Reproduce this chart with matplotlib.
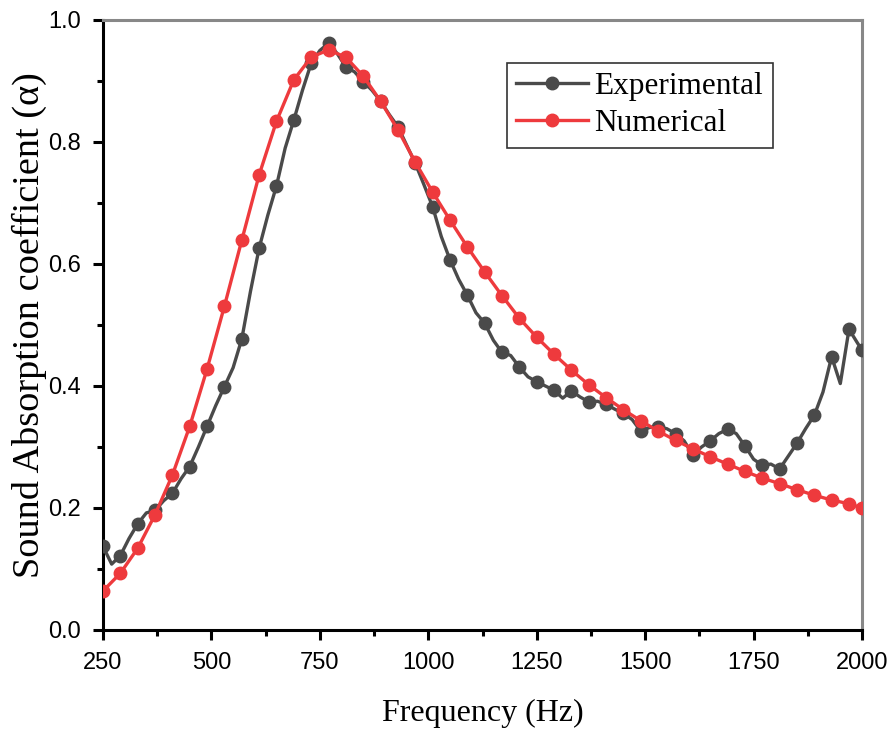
import matplotlib
matplotlib.use("Agg")
import matplotlib.pyplot as plt
from matplotlib.ticker import MultipleLocator, FixedLocator
import numpy as np

# Experimental data (20 Hz resolution, marker on every other point)
exp_freq = [250, 270, 290, 310, 330, 350, 370, 390, 410, 430, 450, 470, 490, 510,
            530, 550, 570, 590, 610, 630, 650, 670, 690, 710, 730, 750, 770, 790,
            810, 830, 850, 870, 890, 910, 930, 950, 970, 990, 1010, 1030, 1050,
            1070, 1090, 1110, 1130, 1150, 1170, 1190, 1210, 1230, 1250, 1270,
            1290, 1310, 1330, 1350, 1370, 1390, 1410, 1430, 1450, 1470, 1490,
            1510, 1530, 1550, 1570, 1590, 1610, 1630, 1650, 1670, 1690, 1710,
            1730, 1750, 1770, 1790, 1810, 1830, 1850, 1870, 1890, 1910, 1930,
            1950, 1970, 1990, 2000]
exp_alpha = [0.137, 0.108, 0.122, 0.150, 0.174, 0.192, 0.196, 0.212, 0.224, 0.248,
             0.268, 0.300, 0.334, 0.368, 0.399, 0.430, 0.477, 0.555, 0.626, 0.680,
             0.728, 0.790, 0.836, 0.885, 0.929, 0.950, 0.962, 0.945, 0.923, 0.915,
             0.899, 0.885, 0.867, 0.845, 0.825, 0.795, 0.765, 0.730, 0.694, 0.645,
             0.607, 0.575, 0.549, 0.520, 0.503, 0.475, 0.455, 0.450, 0.431, 0.415,
             0.407, 0.400, 0.393, 0.380, 0.392, 0.382, 0.374, 0.375, 0.370, 0.362,
             0.355, 0.345, 0.326, 0.332, 0.333, 0.330, 0.322, 0.310, 0.287, 0.300,
             0.310, 0.322, 0.329, 0.322, 0.302, 0.280, 0.270, 0.272, 0.264, 0.285,
             0.306, 0.330, 0.352, 0.390, 0.448, 0.404, 0.493, 0.470, 0.459]

# Numerical data (40 Hz steps)
num_freq = [250, 290, 330, 370, 410, 450, 490, 530, 570, 610, 650, 690, 730, 770,
            810, 850, 890, 930, 970, 1010, 1050, 1090, 1130, 1170, 1210, 1250,
            1290, 1330, 1370, 1410, 1450, 1490, 1530, 1570, 1610, 1650, 1690,
            1730, 1770, 1810, 1850, 1890, 1930, 1970, 2000]
num_alpha = [0.064, 0.093, 0.134, 0.189, 0.254, 0.334, 0.428, 0.531, 0.639, 0.746,
             0.834, 0.902, 0.939, 0.951, 0.939, 0.908, 0.867, 0.820, 0.767, 0.718,
             0.672, 0.628, 0.587, 0.548, 0.511, 0.480, 0.452, 0.426, 0.402, 0.381,
             0.361, 0.343, 0.326, 0.311, 0.297, 0.284, 0.272, 0.260, 0.249, 0.240,
             0.230, 0.221, 0.213, 0.207, 0.200]

x_ticks = [250, 500, 750, 1000, 1250, 1500, 1750, 2000]
y_ticks = [0.0, 0.2, 0.4, 0.6, 0.8, 1.0]

fig = plt.figure(figsize=(8.96, 7.31), dpi=100)
ax = fig.add_axes([103/896, 1-630/731, (862-103)/896, (630-20)/731])

gray = '#4a4a4a'
red = '#ee3a3d'

ax.plot(exp_freq, exp_alpha, color=gray, lw=2.4, marker='o', ms=9,
        markevery=slice(0, None, 2), label='Experimental', zorder=3)
ax.plot(num_freq, num_alpha, color=red, lw=2.4, marker='o', ms=9,
        label='Numerical', zorder=4)

ax.set_xlim(250, 2000)
ax.set_ylim(0, 1.0)
ax.xaxis.set_major_locator(FixedLocator(x_ticks))
ax.xaxis.set_minor_locator(MultipleLocator(125))
ax.yaxis.set_major_locator(FixedLocator(y_ticks))
ax.yaxis.set_minor_locator(MultipleLocator(0.1))
ax.set_yticklabels([f'{v:.1f}' for v in y_ticks])
ax.set_xticklabels([str(v) for v in x_ticks])

for s in ['left', 'bottom']:
    ax.spines[s].set_color('black')
    ax.spines[s].set_linewidth(2.2)
for s in ['top', 'right']:
    ax.spines[s].set_color('#888888')
    ax.spines[s].set_linewidth(2.2)

ax.tick_params(which='major', direction='out', length=7, width=2.2, color='black',
               labelsize=17, top=False, right=False)
ax.tick_params(axis='y', which='major', pad=9)
ax.tick_params(axis='x', which='major', pad=9)
ax.tick_params(which='minor', direction='out', length=4.5, width=2.2, color='black',
               top=False, right=False)
for lab in ax.get_xticklabels() + ax.get_yticklabels():
    lab.set_family(['Liberation Sans', 'DejaVu Sans'])

ax.set_xlabel('Frequency (Hz)', family=['Liberation Serif', 'DejaVu Serif'],
              fontsize=23, labelpad=18)
ax.set_ylabel('Sound Absorption coefficient (α)',
              family=['Liberation Serif', 'DejaVu Serif'], fontsize=27.5, labelpad=1)

leg = ax.legend(loc='upper left', bbox_to_anchor=((507-103)/759, (630-63)/610),
                prop={'family': ['Liberation Serif', 'DejaVu Serif'], 'size': 22.5},
                frameon=True, fancybox=False, edgecolor='black', numpoints=1,
                handlelength=2.3, handletextpad=0.2, borderpad=0.3,
                labelspacing=0.25, borderaxespad=0)
leg.get_frame().set_linewidth(1.2)

fig.savefig('out.png', dpi=100)
